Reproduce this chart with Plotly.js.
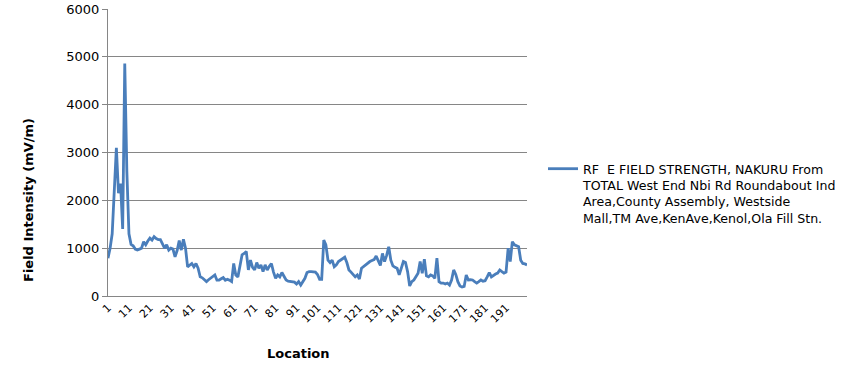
<!DOCTYPE html>
<html>
<head>
<meta charset="utf-8">
<script src="https://cdn.plot.ly/plotly-3.0.1.min.js"></script>
<style>html,body{margin:0;padding:0;background:#fff;}#chart{width:846px;height:381px;}</style>
</head>
<body>
<div id="chart"></div>
<script>
// Location numbers 1..201
const locations = Array.from({length: 201}, (_, k) => k + 1);
// Field intensity (mV/m)
const fieldIntensity = [
  790, 1000, 1300, 2200, 3100, 2150, 2350, 1400, 4860, 2600,
  1300, 1080, 1050, 980, 960, 980, 1000, 1135, 1070, 1150,
  1210, 1170, 1240, 1200, 1180, 1180, 1100, 1000, 1070, 960,
  1000, 980, 820, 950, 1160, 960, 1185, 1000, 610, 650,
  680, 610, 680, 580, 400, 380, 330, 300, 340, 375,
  400, 440, 330, 330, 360, 385, 330, 350, 330, 300,
  680, 440, 400, 650, 860, 890, 930, 545, 750, 600,
  545, 700, 580, 650, 510, 650, 545, 620, 680, 500,
  370, 440, 400, 490, 420, 335, 310, 300, 300, 290,
  250, 300, 230, 300, 370, 490, 510, 510, 510, 500,
  450, 350, 350, 1170, 1070, 750, 700, 750, 610, 650,
  720, 750, 780, 810, 700, 545, 500, 440, 400, 440,
  355, 580, 620, 650, 700, 720, 740, 760, 835, 720,
  640, 890, 720, 850, 1030, 750, 630, 600, 580, 440,
  610, 720, 700, 510, 210, 300, 335, 400, 475, 720,
  475, 770, 420, 400, 440, 420, 370, 790, 300, 270,
  270, 250, 270, 230, 335, 545, 450, 300, 210, 190,
  200, 440, 335, 340, 335, 300, 270, 300, 335, 310,
  320, 400, 490, 400, 440, 460, 480, 545, 510, 480,
  500, 1000, 720, 1135, 1070, 1050, 1030, 750, 680, 670,
  650
];
const xTickVals = [1, 11, 21, 31, 41, 51, 61, 71, 81, 91, 101, 111, 121, 131, 141, 151, 161, 171, 181, 191];
const xTickText = xTickVals.map(String);
const yTickVals = [0, 1000, 2000, 3000, 4000, 5000, 6000];
const seriesName = 'RF  E FIELD STRENGTH, NAKURU From<br>TOTAL West End Nbi Rd Roundabout Ind<br>Area,County Assembly, Westside<br>Mall,TM Ave,KenAve,Kenol,Ola Fill Stn.';

const font = 'DejaVu Sans, Verdana, sans-serif';

const trace = {
  x: locations,
  y: fieldIntensity,
  type: 'scatter',
  mode: 'lines',
  name: seriesName,
  line: {color: '#4a7ebb', width: 2.8},
  showlegend: true
};

const layout = {
  width: 846,
  height: 381,
  margin: {l: 108, r: 319, t: 9, b: 85, autoexpand: false},
  paper_bgcolor: '#ffffff',
  plot_bgcolor: '#ffffff',
  font: {family: font, size: 13, color: '#000000'},
  xaxis: {
    range: [1, 201],
    tickmode: 'array',
    tickvals: xTickVals,
    ticktext: xTickText,
    tickangle: -45,
    tickfont: {family: font, size: 11, color: '#000'},
    showgrid: false,
    zeroline: false,
    showline: true,
    linecolor: '#868686',
    linewidth: 1,
    ticks: '',
    fixedrange: true
  },
  yaxis: {
    range: [0, 6000],
    tickmode: 'array',
    tickvals: yTickVals,
    ticktext: yTickVals.map(String),
    tickfont: {family: font, size: 13, color: '#000'},
    showgrid: true,
    gridcolor: '#868686',
    gridwidth: 1,
    zeroline: false,
    showline: true,
    linecolor: '#868686',
    linewidth: 1,
    ticks: 'outside',
    ticklen: 5,
    tickcolor: '#868686',
    fixedrange: true
  },
  legend: {
    xref: 'paper',
    xanchor: 'left',
    yref: 'paper',
    yanchor: 'top',
    valign: 'top',
    font: {family: font, size: 12.6, color: '#000'},
    bgcolor: 'rgba(0,0,0,0)',
    itemwidth: 30,
    tracegroupgap: 0
  },
  annotations: [
    {
      text: '<b>Field Intensity (mV/m)</b>',
      xref: 'paper', yref: 'paper',
      x: -80 / 419, y: 1 - (200 - 9) / 287,
      xanchor: 'center', yanchor: 'middle',
      textangle: -90,
      showarrow: false,
      font: {family: font, size: 13, color: '#000'}
    },
    {
      text: '<b>Location</b>',
      xref: 'paper', yref: 'paper',
      x: (298 - 108) / 419, y: 1 - (354 - 9) / 287,
      xanchor: 'center', yanchor: 'middle',
      showarrow: false,
      font: {family: font, size: 13, color: '#000'}
    }
  ]
};
layout.legend.y = 1 - (154 - 9) / 287;
layout.legend.x = (543 - 108) / 419;

Plotly.newPlot('chart', [trace], layout, {displayModeBar: false, staticPlot: true});
</script>
</body>
</html>
